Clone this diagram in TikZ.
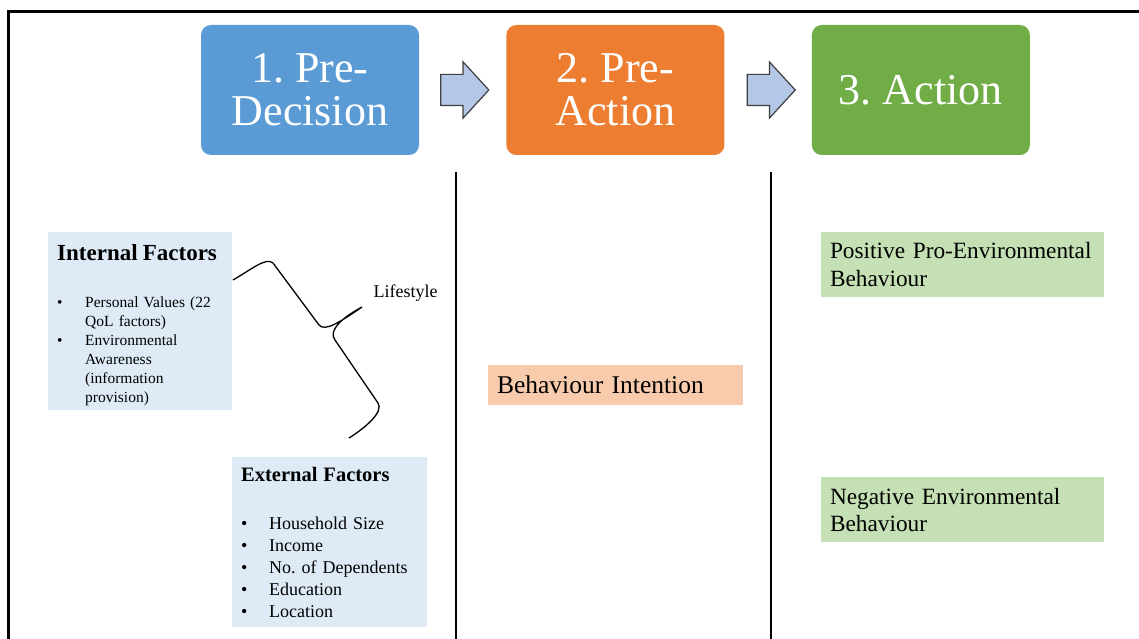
\documentclass[tikz,border=0pt]{standalone}
\usepackage{fontspec}
\setmainfont{Liberation Serif}
\usepackage{tikz}
\usetikzlibrary{positioning,shapes.arrows}
\frenchspacing
\definecolor{stageblue}{HTML}{5B9BD5}
\definecolor{stageorange}{HTML}{ED7D31}
\definecolor{stagegreen}{HTML}{70AD47}
\definecolor{arrowfill}{HTML}{B4C7E7}
\definecolor{arrowline}{HTML}{3F3F3F}
\definecolor{factorblue}{HTML}{DEEBF7}
\definecolor{intentpeach}{HTML}{F8CBAD}
\definecolor{outcomegreen}{HTML}{C5E0B4}
\newcommand{\factoritem}[1]{\makebox[#1][l]{\textbullet}}
\tikzset{
    stagebox/.style={
        rounded corners=10pt, minimum width=218pt, minimum height=130pt,
        inner sep=0pt, text=white, align=center,
        font=\fontsize{44}{43}\selectfont
    },
    stagearrow/.style={
        single arrow, draw=arrowline, fill=arrowfill, line width=1.2pt,
        minimum height=48pt, inner xsep=0pt, inner ysep=15pt,
        single arrow head extend=12.5pt, single arrow tip angle=95
    },
    factorbox/.style={
        fill=factorblue, anchor=north west, align=left,
        inner xsep=9pt, inner ysep=0pt
    },
    intentbox/.style={
        fill=intentpeach, minimum width=255pt, minimum height=40pt,
        text width=237pt, inner xsep=9pt, align=left,
        font=\fontsize{25.5}{29}\selectfont
    },
    outcomebox/.style={
        fill=outcomegreen, minimum width=283pt, minimum height=65pt,
        text width=265pt, inner xsep=9pt, align=left,
        font=\fontsize{23.3}{27.7}\selectfont
    },
    frameline/.style={line width=3pt, black},
    divider/.style={line width=2pt, black},
    bracestroke/.style={line width=1.3pt, black},
}

\begin{document}
\begin{tikzpicture}[x=1pt, y=-1pt]
    \useasboundingbox (0,0) rectangle (1139,639);
    % outer frame
    \draw[frameline] (1139,12) -| (8,639);
    % stages
    \node[stagebox, fill=stageblue] (predecision) at (310,90) {1. Pre-\\Decision};
    \node[stagebox, fill=stageorange, right=87pt of predecision] (preaction) {2. Pre-\\Action};
    \node[stagebox, fill=stagegreen, right=87pt of preaction] (action) {3. Action};
    \node[stagearrow, right=21pt of predecision] (arrowone) {};
    \node[stagearrow, right=22pt of preaction] (arrowtwo) {};
    % column dividers
    \draw[divider] (456,172) -- (456,639);
    \draw[divider] (771,172) -- (771,639);
    % pre-decision factors
    \node[factorbox, minimum width=184pt, minimum height=178pt, text width=166pt,
          font=\fontsize{15.5}{19}\selectfont] (internal) at (48,232)
        {\rule{0pt}{23pt}{\fontsize{23}{19}\selectfont\bfseries Internal Factors}\\[28pt]
         \factoritem{28pt}Personal Values (22\\
         \hspace*{28pt}QoL factors)\\
         \factoritem{28pt}Environmental\\
         \hspace*{28pt}Awareness\\
         \hspace*{28pt}(information\\
         \hspace*{28pt}provision)};
    \node[factorbox, minimum width=195pt, minimum height=170pt, text width=177pt,
          font=\fontsize{18}{22}\selectfont] (external) at (232,457)
        {{\fontsize{20.5}{22}\selectfont\bfseries External Factors}\\[26pt]
         \factoritem{28pt}Household Size\\
         \factoritem{28pt}Income\\
         \factoritem{28pt}No. of Dependents\\
         \factoritem{28pt}Education\\
         \factoritem{28pt}Location};
    \draw[bracestroke] (233,280) .. controls (252,269) and (266,257) .. (273,263)
        -- (319,325) .. controls (325,332) and (340,322) .. (362,307)
        .. controls (345,316) and (327,330) .. (335,340)
        -- (378,403) .. controls (384,412) and (365,428) .. (349,438);
    \node[font=\fontsize{18}{21}\selectfont] (lifestyle) at (405.5,293) {Lifestyle};
    % pre-action
    \node[intentbox] (intention) at (615.5,385) {Behaviour Intention};
    % action outcomes
    \node[outcomebox] (positive) at (962.5,264.5) {Positive Pro-Environmental\\Behaviour};
    \node[outcomebox, below=180pt of positive] (negative) {Negative Environmental\\Behaviour};
\end{tikzpicture}
\end{document}
